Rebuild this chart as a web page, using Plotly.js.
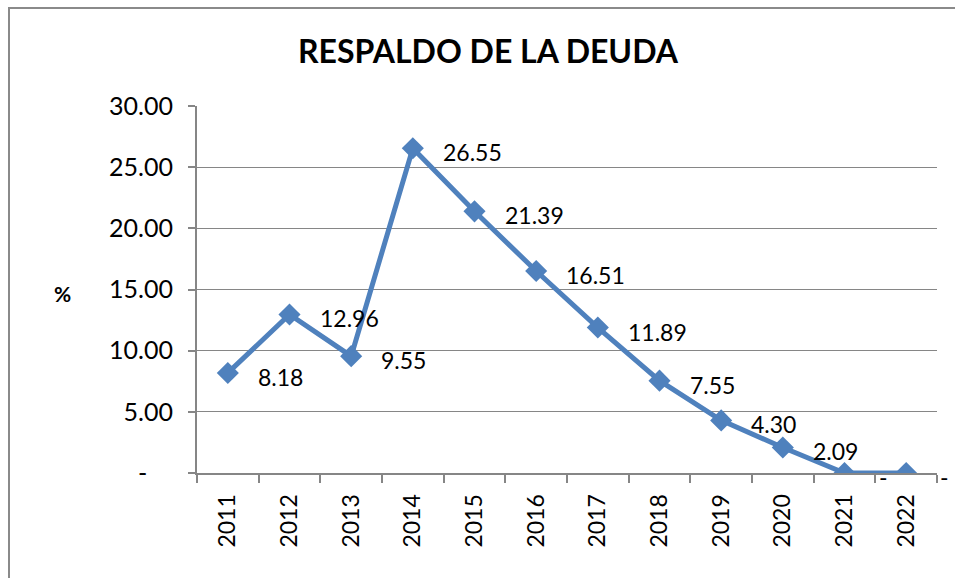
<!DOCTYPE html>
<html><head><meta charset="utf-8">
<script src="https://cdn.plot.ly/plotly-3.0.1.min.js"></script>
<style>
html,body{margin:0;padding:0;width:955px;height:578px;overflow:hidden;background:#fff;}
#chart{position:absolute;left:0;top:0;width:955px;height:578px;}
#frame{position:absolute;left:8px;top:7px;width:1000px;height:1000px;border:2px solid #8a8a8a;pointer-events:none;}
</style></head>
<body>
<div id="chart"></div>
<div id="frame"></div>
<script>
const years = ['2011','2012','2013','2014','2015','2016','2017','2018','2019','2020','2021','2022'];
const values = [8.18, 12.96, 9.55, 26.55, 21.39, 16.51, 11.89, 7.55, 4.30, 2.09, 0, 0];
const yTickVals = [0, 5, 10, 15, 20, 25, 30];
const yTickText = ['-\u00a0\u00a0\u00a0\u00a0', '5.00', '10.00', '15.00', '20.00', '25.00', '30.00'];

const fontFam = 'Lato, "Open Sans", "Liberation Sans", sans-serif';
const idx = years.map((_, i) => i);
const labelText = values.map(v => v === 0 ? '-' : v.toFixed(2));

const annotations = idx.map(i => ({
  x: i, y: values[i], xref: 'x', yref: 'y',
  text: labelText[i], showarrow: false,
  xanchor: 'left', yanchor: 'middle',
  xshift: values[i] === 0 ? 32 : 28, yshift: -4,
  font: {family: fontFam, size: 23, color: '#000'}
}));
annotations.push({
  xref: 'paper', yref: 'paper', x: -0.182, y: 0.49,
  text: '<b>%</b>', showarrow: false, xanchor: 'center', yanchor: 'middle',
  font: {family: fontFam, size: 21, color: '#000'}
});

Plotly.newPlot('chart', [{
  x: idx, y: values, type: 'scatter', mode: 'lines+markers',
  line: {color: '#4F81BD', width: 5},
  marker: {symbol: 'diamond', size: 17, color: '#4F81BD'},
  hoverinfo: 'y'
}], {
  width: 955, height: 578,
  margin: {l: 197, r: 18, t: 106, b: 105},
  paper_bgcolor: '#fff', plot_bgcolor: '#fff',
  showlegend: false,
  title: {text: '<b>RESPALDO DE LA DEUDA</b>', x: 0.511, xref: 'container', xanchor: 'center',
          y: 0.91, yanchor: 'middle', yref: 'container',
          font: {family: fontFam, size: 32, color: '#000'}},
  xaxis: {
    type: 'linear', range: [-0.5, years.length - 0.5],
    tickvals: idx, ticktext: years, ticks: '',
    showgrid: false, zeroline: false,
    showline: true, linecolor: '#868686', linewidth: 2,
    minor: {tick0: -0.5, dtick: 1, ticks: 'outside', ticklen: 8, tickcolor: '#868686', tickwidth: 2, showgrid: false},
    tickangle: -90, tickfont: {family: fontFam, size: 23, color: '#000'},
    ticklabelstandoff: 10,
    fixedrange: true
  },
  yaxis: {
    range: [0, 30], tickvals: yTickVals, ticktext: yTickText,
    showgrid: true, gridcolor: '#868686', gridwidth: 1, zeroline: false,
    showline: true, linecolor: '#868686', linewidth: 2,
    ticks: 'outside', ticklen: 7, tickcolor: '#868686', tickwidth: 2,
    tickfont: {family: fontFam, size: 25, color: '#000'},
    ticklabelstandoff: 10,
    fixedrange: true
  },
  annotations: annotations
}, {displayModeBar: false, staticPlot: true});
</script>
</body></html>
